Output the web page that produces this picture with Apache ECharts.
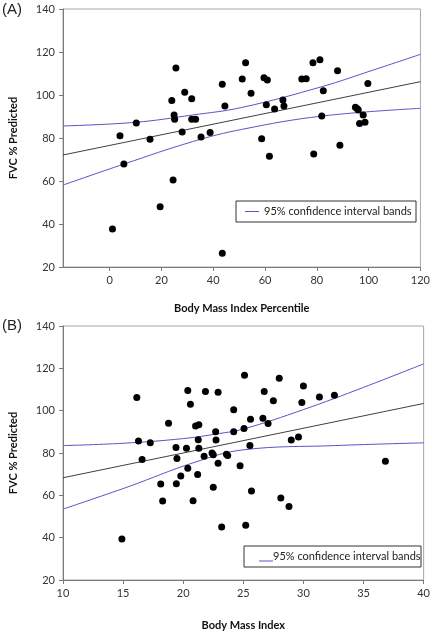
<!DOCTYPE html>
<html>
<head>
<meta charset="utf-8">
<script src="https://cdn.jsdelivr.net/npm/echarts@6/dist/echarts.min.js"></script>
<style>
html,body{margin:0;padding:0;background:#fff;}
#chart{width:433px;height:632px;}
</style>
</head>
<body>
<div id="chart"></div>
<script>
// Panel A: BMI percentile vs FVC % predicted
const aBmiPercentile = [4, 10.3, 15.6, 24, 25.6, 24.9, 25.1, 28, 29, 31.7, 31.7, 33.2, 35.3, 38.8, 43.5, 44.5, 51.2, 52.5, 54.6, 58.7, 59.6, 60.9, 60.5, 61.7, 63.7, 66.9, 67.3, 74.2, 75.9, 78.5, 81.2, 78.8, 82.5, 81.9, 88, 88.9, 94.9, 95.6, 96, 97.9, 96.5, 98.6, 99.7, 1.1, 5.5, 19.5, 24.5, 43.5];
const aFvc = [81.1, 87, 79.4, 97.4, 112.6, 90.7, 88.7, 82.8, 101.3, 98.3, 88.7, 88.7, 80.5, 82.6, 105, 94.9, 107.4, 115, 100.8, 79.7, 108, 107, 95.5, 71.5, 93.5, 97.7, 94.9, 107.4, 107.6, 115, 116.4, 72.6, 102, 90.2, 111.3, 76.6, 94.3, 93.6, 93, 90.7, 86.7, 87.3, 105.3, 37.7, 67.9, 48, 60.5, 26.4];
const aFitX = [-18, 120];
const aFitY = [72.1, 106.2];
const aUpperX = [-18, 10, 32, 51, 82, 101, 120];
const aUpperY = [85.6, 87.3, 90.7, 94.2, 103.9, 111.3, 118.9];
const aLowerX = [-18, 5.6, 32, 51, 82, 120];
const aLowerY = [58.1, 67.9, 78.3, 84, 90.2, 93.8];
const aXTicks = [0, 20, 40, 60, 80, 100, 120];

// Panel B: BMI vs FVC % predicted
const bBmi = [16.14, 16.28, 17.26, 16.58, 18.78, 19.4, 19.48, 20.27, 20.38, 20.6, 21.03, 21.3, 21.25, 21.3, 21.85, 21.74, 22.4, 22.5, 22.7, 22.73, 22.9, 22.9, 23.6, 23.7, 24.2, 24.2, 24.73, 25.06, 25.1, 25.55, 25.6, 26.63, 26.74, 27.06, 27.5, 27.99, 28.99, 29.59, 29.87, 30, 31.33, 32.58, 36.82, 18.13, 18.29, 19.43, 19.8, 20.38, 20.82, 21.2, 22.5, 23.2, 25.2, 25.68, 28.12, 28.8, 14.9];
const bFvc = [106.2, 85.7, 84.9, 76.9, 94, 82.6, 77.4, 82.2, 109.5, 103, 92.8, 93.4, 86.3, 82.2, 109, 78.5, 80, 79.2, 90, 86.2, 108.7, 75.1, 79.4, 78.8, 100.4, 90, 74, 91.6, 116.7, 83.5, 96, 96.4, 109, 93.9, 104.7, 115.3, 86.2, 87.6, 103.8, 111.6, 106.5, 107.3, 76.1, 65.4, 57.3, 65.5, 69.1, 72.8, 57.5, 69.8, 63.8, 45, 45.9, 62, 58.7, 54.7, 39.4];
const bFitX = [10, 40];
const bFitY = [68.3, 103.4];
const bUpperX = [10, 15, 20, 23, 25, 30, 35, 40];
const bUpperY = [83.5, 84.6, 86.8, 89.2, 91.3, 100.5, 111, 122.1];
const bLowerX = [10, 15.4, 20.9, 25, 32.6, 40];
const bLowerY = [53.5, 64, 75.5, 81.5, 83.5, 84.8];

const yTitle = 'FVC % Predicted';
const ciLabel = '95% confidence interval bands';

const zip = (xs, ys) => xs.map((x, i) => [x, ys[i]]);

const CI_COLOR = '#5656c8';
const FIT_COLOR = '#404040';
const LABEL_FONT = 'Lato, "Liberation Sans", Arial, sans-serif';

function xAxisCfg(idx, min, max, name, custom, gap) {
  const cfg = {
    type: 'value', gridIndex: idx, min: min, max: max,
    name: name, nameLocation: 'middle', nameGap: gap,
    nameTextStyle: { fontFamily: LABEL_FONT, fontWeight: 'bold', fontSize: 11, color: '#111' },
    axisLine: { show: true, onZero: false, lineStyle: { color: '#7a7a7a', width: 1 } },
    axisTick: { show: true, inside: false, length: 4, lineStyle: { color: '#7a7a7a' } },
    axisLabel: { fontFamily: LABEL_FONT, fontSize: 11, color: '#333', margin: 8 },
    splitLine: { show: false }
  };
  if (custom) {
    cfg.axisLabel.customValues = custom;
    cfg.axisTick.customValues = custom;
  } else {
    cfg.interval = 5;
  }
  return cfg;
}
function yAxisCfg(idx) {
  return {
    type: 'value', gridIndex: idx, min: 20, max: 140, interval: 20,
    name: yTitle, nameLocation: 'middle', nameGap: 44, nameRotate: 90,
    nameTextStyle: { fontFamily: LABEL_FONT, fontWeight: 'bold', fontSize: 11, color: '#111' },
    axisLine: { show: true, onZero: false, lineStyle: { color: '#7a7a7a', width: 1 } },
    axisTick: { show: true, inside: false, length: 4, lineStyle: { color: '#7a7a7a' } },
    axisLabel: { fontFamily: LABEL_FONT, fontSize: 11, color: '#333', margin: 8 },
    splitLine: { show: false }
  };
}

const chart = echarts.init(document.getElementById('chart'), null, { renderer: 'canvas' });
chart.setOption({
  backgroundColor: '#ffffff',
  animation: false,
  grid: [
    { left: 56, top: 9, width: 368, height: 258, show: true, borderColor: '#a8a8a8', borderWidth: 1, backgroundColor: 'transparent' },
    { left: 56, top: 326, width: 368, height: 259, show: true, borderColor: '#a8a8a8', borderWidth: 1, backgroundColor: 'transparent' }
  ],
  xAxis: [
    xAxisCfg(0, -18, 120, 'Body Mass Index Percentile', aXTicks, 36),
    xAxisCfg(1, 10, 40, 'Body Mass Index', null, 40)
  ],
  yAxis: [yAxisCfg(0), yAxisCfg(1)],
  series: [
    { name: ciLabel, type: 'line', xAxisIndex: 0, yAxisIndex: 0, data: zip(aUpperX, aUpperY), smooth: 0.4, showSymbol: false, lineStyle: { color: CI_COLOR, width: 1 }, itemStyle: { color: CI_COLOR }, z: 2 },
    { name: ciLabel, type: 'line', xAxisIndex: 0, yAxisIndex: 0, data: zip(aLowerX, aLowerY), smooth: 0.4, showSymbol: false, lineStyle: { color: CI_COLOR, width: 1 }, itemStyle: { color: CI_COLOR }, z: 2 },
    { name: 'Regression A', type: 'line', xAxisIndex: 0, yAxisIndex: 0, data: zip(aFitX, aFitY), showSymbol: false, lineStyle: { color: FIT_COLOR, width: 1 }, z: 2 },
    { name: 'Panel A', type: 'scatter', xAxisIndex: 0, yAxisIndex: 0, data: zip(aBmiPercentile, aFvc), symbol: 'circle', symbolSize: 7, itemStyle: { color: '#000', opacity: 1 }, z: 3 },
    { name: ciLabel, type: 'line', xAxisIndex: 1, yAxisIndex: 1, data: zip(bUpperX, bUpperY), smooth: 0.4, showSymbol: false, lineStyle: { color: CI_COLOR, width: 1 }, itemStyle: { color: CI_COLOR }, z: 2 },
    { name: ciLabel, type: 'line', xAxisIndex: 1, yAxisIndex: 1, data: zip(bLowerX, bLowerY), smooth: 0.4, showSymbol: false, lineStyle: { color: CI_COLOR, width: 1 }, itemStyle: { color: CI_COLOR }, z: 2 },
    { name: 'Regression B', type: 'line', xAxisIndex: 1, yAxisIndex: 1, data: zip(bFitX, bFitY), showSymbol: false, lineStyle: { color: FIT_COLOR, width: 1 }, z: 2 },
    { name: 'Panel B', type: 'scatter', xAxisIndex: 1, yAxisIndex: 1, data: zip(bBmi, bFvc), symbol: 'circle', symbolSize: 7, itemStyle: { color: '#000', opacity: 1 }, z: 3 }
  ],
  graphic: [
    { type: 'text', left: 2, top: 2, style: { text: '(A)', font: '15px "Liberation Sans", Arial, sans-serif', fill: '#222' } },
    { type: 'text', left: 2, top: 318, style: { text: '(B)', font: '15px "Liberation Sans", Arial, sans-serif', fill: '#222' } },
    { type: 'rect', shape: { x: 236, y: 201, width: 180, height: 21 }, style: { fill: '#fff', stroke: '#333', lineWidth: 1 }, z: 10 },
    { type: 'line', shape: { x1: 245, y1: 211.5, x2: 259, y2: 211.5 }, style: { stroke: CI_COLOR, lineWidth: 1 }, z: 11 },
    { type: 'text', x: 264, y: 211.5, style: { text: ciLabel, font: '11px Lato, "Liberation Sans", sans-serif', fill: '#222', textVerticalAlign: 'middle', verticalAlign: 'middle' }, z: 11 },
    { type: 'rect', shape: { x: 244, y: 546, width: 177, height: 21 }, style: { fill: '#fff', stroke: '#333', lineWidth: 1 }, z: 10 },
    { type: 'line', shape: { x1: 259, y1: 561, x2: 273, y2: 561 }, style: { stroke: CI_COLOR, lineWidth: 1 }, z: 11 },
    { type: 'text', x: 273, y: 556.5, style: { text: ciLabel, font: '11px Lato, "Liberation Sans", sans-serif', fill: '#222', textVerticalAlign: 'middle', verticalAlign: 'middle' }, z: 11 }
  ]
});
</script>
</body>
</html>
